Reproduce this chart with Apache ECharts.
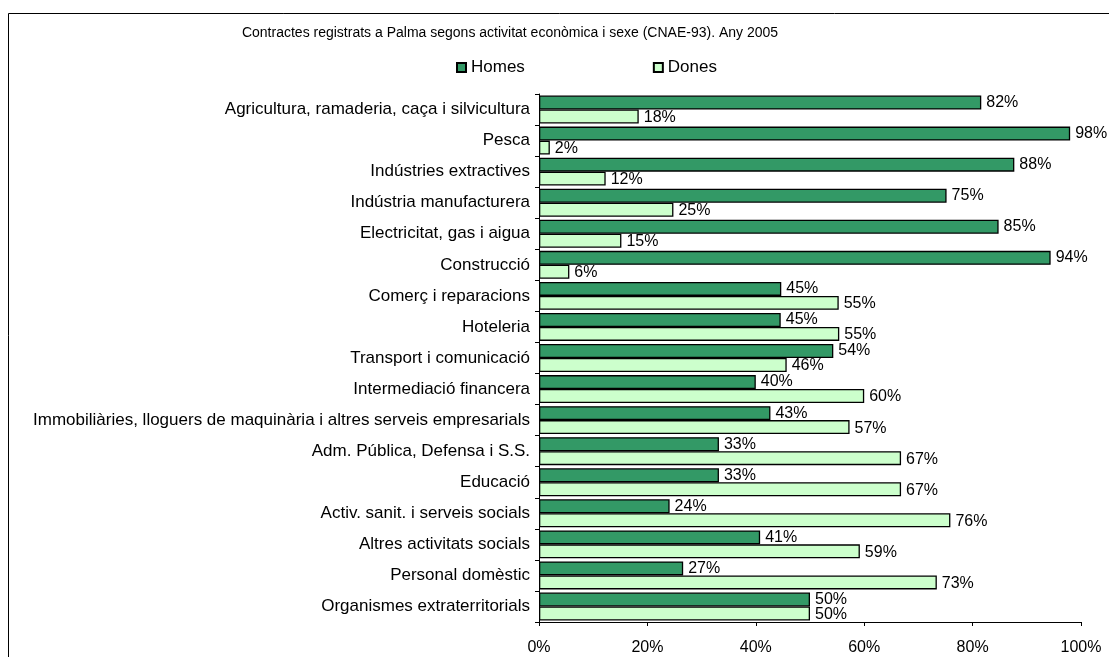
<!DOCTYPE html>
<html>
<head>
<meta charset="utf-8">
<script src="https://cdn.jsdelivr.net/npm/echarts@6/dist/echarts.min.js"></script>
<style>
html,body{margin:0;padding:0;background:#fff;}
#chart{width:1109px;height:657px;}
</style>
</head>
<body>
<div id="chart"></div>
<script>
const titleText = 'Contractes registrats a Palma segons activitat econòmica i sexe (CNAE-93). Any 2005';
const categories = [
  'Agricultura, ramaderia, caça i silvicultura',
  'Pesca',
  'Indústries extractives',
  'Indústria manufacturera',
  'Electricitat, gas i aigua',
  'Construcció',
  'Comerç i reparacions',
  'Hoteleria',
  'Transport i comunicació',
  'Intermediació financera',
  'Immobiliàries, lloguers de maquinària i altres serveis empresarials',
  'Adm. Pública, Defensa i S.S.',
  'Educació',
  'Activ. sanit. i serveis socials',
  'Altres activitats socials',
  'Personal domèstic',
  'Organismes extraterritorials'
];
const homes = [81.6, 98.0, 87.7, 75.2, 84.8, 94.4, 44.7, 44.6, 54.3, 40.0, 42.7, 33.2, 33.2, 24.1, 40.8, 26.6, 50.0];
const dones = [18.4, 2.0, 12.3, 24.8, 15.2, 5.6, 55.3, 55.4, 45.7, 60.0, 57.3, 66.8, 66.8, 75.9, 59.2, 73.4, 50.0];
const xTicks = [0, 20, 40, 60, 80, 100];

const font = 'Liberation Sans, Arial, sans-serif';
const chart = echarts.init(document.getElementById('chart'), null, {renderer: 'canvas'});
chart.setOption({
  animation: false,
  backgroundColor: '#ffffff',
  graphic: [{
    type: 'rect',
    shape: {x: 8.5, y: 13.5, width: 1200, height: 700},
    style: {fill: 'none', stroke: '#000', lineWidth: 1},
    silent: true, z: -10
  }],
  title: {
    text: titleText,
    left: 505, top: 21, textAlign: 'center',
    textStyle: {fontFamily: font, fontSize: 14, fontWeight: 'normal', color: '#000'}
  },
  legend: {
    left: 451, top: 54,
    itemWidth: 9, itemHeight: 9, itemGap: 128,
    icon: 'rect',
    textStyle: {fontFamily: font, fontSize: 17, color: '#000', padding: [0,0,0,0]},
    data: ['Homes', 'Dones']
  },
  grid: {left: 539, right: 28, top: 94, bottom: 35, containLabel: false},
  xAxis: {
    type: 'value', min: 0, max: 100, interval: 20,
    axisLine: {show: true, lineStyle: {color: '#000', width: 1}},
    axisTick: {show: true, length: 4, lineStyle: {color: '#000'}},
    splitLine: {show: false},
    axisLabel: {
      fontFamily: font, fontSize: 16, color: '#000', margin: 18,
      formatter: v => xTicks.includes(v) ? v + '%' : ''
    }
  },
  yAxis: {
    type: 'category', data: categories, inverse: true,
    axisLine: {show: true, lineStyle: {color: '#000', width: 1}},
    axisTick: {show: true, length: 4, inside: false, lineStyle: {color: '#000'}},
    axisLabel: {fontFamily: font, fontSize: 17, color: '#000', margin: 9, padding: [0, 0, 5, 0]}
  },
  series: [
    {
      name: 'Homes', type: 'bar', data: homes,
      barGap: '0%', barCategoryGap: '10%',
      itemStyle: {color: '#339966', borderColor: '#000', borderWidth: 1.3},
      label: {
        show: true, position: 'right', distance: 5, offset: [0, 0],
        fontFamily: font, fontSize: 16, color: '#000',
        formatter: p => Math.round(p.value) + '%'
      }
    },
    {
      name: 'Dones', type: 'bar', data: dones,
      barGap: '0%', barCategoryGap: '10%',
      itemStyle: {color: '#CCFFCC', borderColor: '#000', borderWidth: 1.3},
      label: {
        show: true, position: 'right', distance: 5, offset: [0, 1],
        fontFamily: font, fontSize: 16, color: '#000',
        formatter: p => Math.round(p.value) + '%'
      }
    }
  ]
});
</script>
</body>
</html>
